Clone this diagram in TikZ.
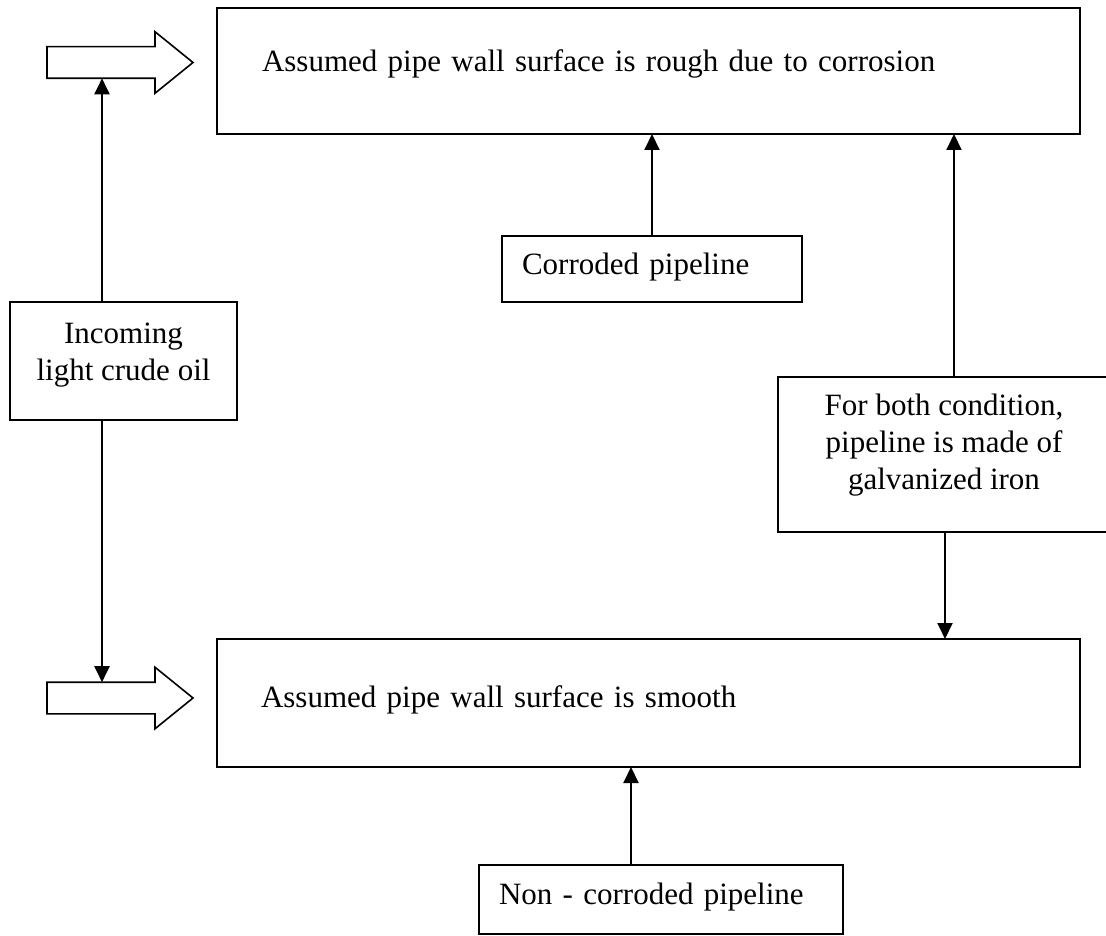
\documentclass[tikz,border=0pt]{standalone}
\usepackage{fontspec}
\setmainfont{Liberation Serif}
\usepackage{tikz}
\usetikzlibrary{arrows.meta,shapes.arrows}
\tikzset{
  flowbox/.style={draw, line width=1.6pt, inner ysep=0pt, outer sep=0pt, anchor=north west, text height=22pt},
  leftbox/.style={flowbox, align=left},
  midbox/.style={flowbox, align=center, inner xsep=0pt},
  feedarrow/.style={single arrow, draw, line width=1.6pt, minimum height=146pt, minimum width=60pt,
    single arrow head extend=15pt, single arrow tip angle=78, inner xsep=0pt, inner ysep=15pt, outer sep=0pt, anchor=tail},
  linkarrow/.style={-{Triangle[length=16pt,width=15pt]}, line width=2pt},
}

\begin{document}
\begin{tikzpicture}[x=1pt, y=-1pt, font=\fontsize{31}{37}\selectfont]
  \useasboundingbox (0,0) rectangle (1106,936);

  % the two assumptions
  \node[leftbox, text width=773pt, inner xsep=45pt, minimum height=126pt, text depth=20pt] (rough) at (217,8) {Assumed pipe wall surface is rough due to corrosion};
  \node[leftbox, text width=775pt, inner xsep=44pt, minimum height=128pt, text depth=14pt] (smooth) at (217,639) {Assumed pipe wall surface is smooth};

  % conditions
  \node[leftbox, text width=260pt, inner xsep=20pt, minimum height=66pt, text depth=10pt] (corroded) at (502,236) {Corroded pipeline};
  \node[leftbox, text width=324pt, inner xsep=20pt, minimum height=69pt, text depth=12pt] (noncorroded) at (479,865) {Non - corroded pipeline};
  \node[midbox, minimum width=227pt, minimum height=118pt, text height=58pt, text depth=20pt] (oil) at (10,302) {Incoming\\light crude oil};
  \node[midbox, minimum width=332pt, minimum height=155pt, text height=95pt, text depth=26pt] (material) at (778,377) {For both condition,\\pipeline is made of\\galvanized iron};

  % hollow inflow arrows
  \node[feedarrow] (inrough) at (47,62.5) {};
  \node[feedarrow] (insmooth) at (47,698) {};

  \draw[linkarrow] ([xshift=-21.5pt]oil.north) -- ([xshift=-21.5pt]oil.north |- inrough.south);
  \draw[linkarrow] ([xshift=-21.5pt]oil.south) -- ([xshift=-21.5pt]oil.south |- insmooth.north);
  \draw[linkarrow] (corroded.north) -- (corroded.north |- rough.south);
  \draw[linkarrow] ([xshift=10pt]material.north) -- ([xshift=10pt]material.north |- rough.south);
  \draw[linkarrow] ([xshift=1pt]material.south) -- ([xshift=1pt]material.south |- smooth.north);
  \draw[linkarrow] ([xshift=-30pt]noncorroded.north) -- ([xshift=-30pt]noncorroded.north |- smooth.south);
\end{tikzpicture}
\end{document}
